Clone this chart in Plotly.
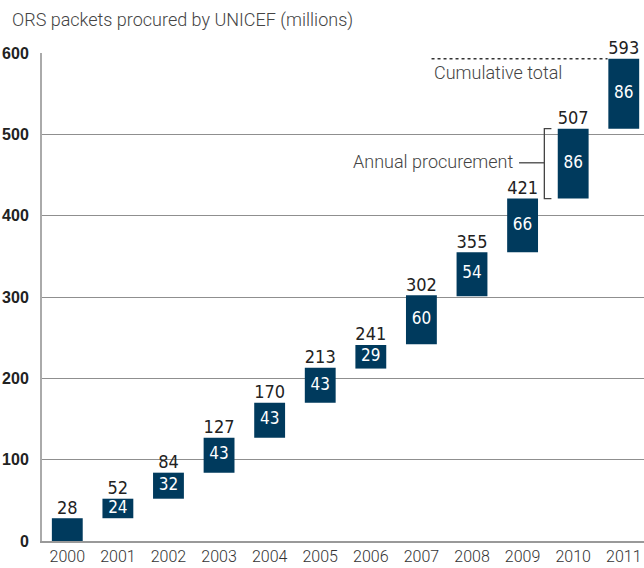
import plotly.graph_objects as go

# ORS packets procured by UNICEF (millions)
years = ["2000", "2001", "2002", "2003", "2004", "2005",
         "2006", "2007", "2008", "2009", "2010", "2011"]
annual = [28, 24, 32, 43, 43, 43, 29, 60, 54, 66, 86, 86]
cumulative = [28, 52, 84, 127, 170, 213, 241, 302, 355, 421, 507, 593]
y_ticks = [0, 100, 200, 300, 400, 500, 600]

NAVY = "#003a5d"
NARROW = "Liberation Sans Narrow, DejaVu Sans Condensed, Arial Narrow, sans-serif"
SANS = "Roboto, Liberation Sans, sans-serif"

# floating bars: each year's procurement stacked on the previous total
bases = [c - a for c, a in zip(cumulative, annual)]
mids = [b + a / 2 for b, a in zip(bases, annual)]
inner_text = [""] + [str(a) for a in annual[1:]]

fig = go.Figure()
fig.add_trace(go.Bar(
    x=years, y=annual, base=bases, width=0.61,
    marker=dict(color=NAVY, line=dict(width=0)),
    hoverinfo="skip", showlegend=False,
))
# annual value inside each bar
fig.add_trace(go.Scatter(
    x=years, y=mids, mode="text", text=inner_text,
    textposition="middle center", cliponaxis=False,
    textfont=dict(family=NARROW, size=17, color="white"),
    hoverinfo="skip", showlegend=False,
))
# running total above each bar
fig.add_trace(go.Scatter(
    x=years, y=cumulative, mode="text", text=[str(c) for c in cumulative],
    textposition="top center", cliponaxis=False,
    textfont=dict(family=NARROW, size=18, color="#222222"),
    hoverinfo="skip", showlegend=False,
))

# legend callouts
fig.add_shape(type="line", xref="x", yref="y", x0=7.2, x1=10.68, y0=593, y1=593,
              line=dict(color="#333333", width=1.5, dash="dot"))
fig.add_annotation(x=7.2, y=576, xref="x", yref="y", text="Cumulative total",
                   showarrow=False, xanchor="left", yanchor="middle",
                   font=dict(family=SANS, size=18, color="#444444", weight=300))

bx, bx_end = 9.43, 9.57
fig.add_shape(type="path", xref="x", yref="y",
              path=f"M {bx_end},507 L {bx},507 L {bx},421 L {bx_end},421",
              line=dict(color="#444444", width=1.3))
fig.add_shape(type="line", xref="x", yref="y", x0=8.93, x1=bx, y0=465, y1=465,
              line=dict(color="#444444", width=1.3))
fig.add_annotation(x=8.86, y=467, xref="x", yref="y", text="Annual procurement",
                   showarrow=False, xanchor="right", yanchor="middle",
                   font=dict(family=SANS, size=18, color="#444444", weight=300))

fig.update_layout(
    width=644, height=568,
    margin=dict(l=42, r=0, t=53, b=27),
    plot_bgcolor="white", paper_bgcolor="white",
    bargap=0.4,
    title=dict(text="ORS packets procured by UNICEF (millions)",
               x=12 / 644, xanchor="left", xref="container",
               y=1 - 20 / 568, yanchor="middle", yref="container",
               font=dict(family=SANS, size=18, color="#444444", weight=300)),
    xaxis=dict(
        type="category", range=[-0.5, 11.4],
        showgrid=False, showline=True, linecolor="#999999", linewidth=1.5,
        ticks="", tickfont=dict(family=SANS, size=16, color="#333333", weight=300),
        fixedrange=True,
    ),
    yaxis=dict(
        range=[0, 600], tickvals=y_ticks, ticktext=[str(v) for v in y_ticks],
        showgrid=True, gridcolor="#8f8f8f", gridwidth=1,
        showline=True, linecolor="#aaaaaa", linewidth=2,
        zeroline=False, ticks="", ticklabelstandoff=8,
        tickfont=dict(family="Liberation Sans, Arial, sans-serif", size=16, color="#222222", weight="bold"),
        fixedrange=True,
    ),
)

fig.write_html("out.html")
